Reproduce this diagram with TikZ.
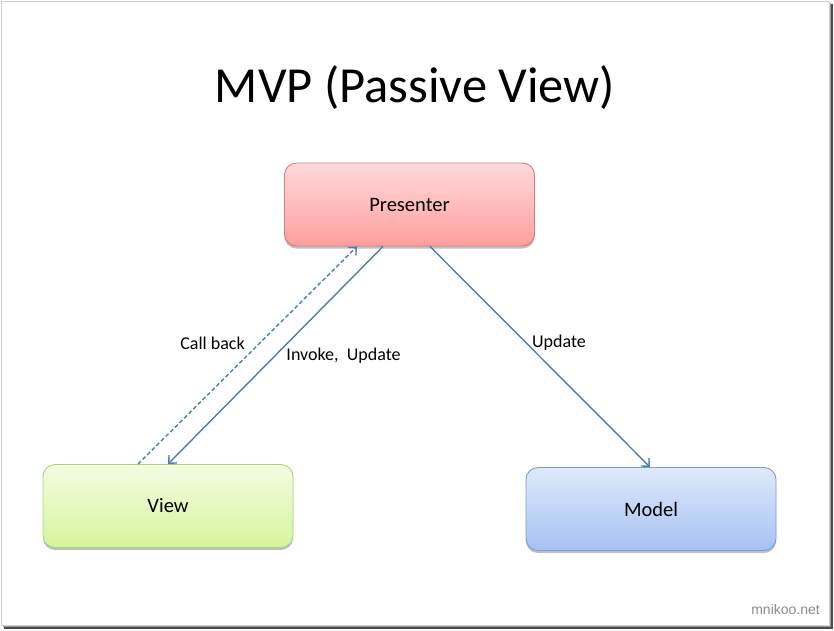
\documentclass[tikz,border=0pt]{standalone}
\usepackage{fontspec}
\setmainfont{Carlito}
\newfontfamily\wmfont{Liberation Sans}
\usetikzlibrary{arrows.meta,shadows}
\definecolor{arrowblue}{HTML}{4A7EBB}
\definecolor{pTop}{HTML}{FFDADA}
\definecolor{pBot}{HTML}{FF9E9E}
\definecolor{pLine}{HTML}{D47C7A}
\definecolor{vTop}{HTML}{F3FCE3}
\definecolor{vBot}{HTML}{D6F59C}
\definecolor{vLine}{HTML}{B0D27A}
\definecolor{mTop}{HTML}{DFE9FB}
\definecolor{mBot}{HTML}{A6C2F3}
\definecolor{mLine}{HTML}{7C9DD4}
\tikzset{
  box/.style={rounded corners=12pt, minimum width=250pt, minimum height=83pt,
    line width=0.9pt, font=\fontsize{20.5}{24}\selectfont, inner sep=0pt,
    drop shadow={shadow xshift=0pt, shadow yshift=-2.5pt, opacity=0.25, fill=black}},
  conn/.style={draw=arrowblue, line width=1.4pt, -{Straight Barb[length=6pt,width=11pt]}},
  lbl/.style={font=\fontsize{18}{21}\selectfont, inner sep=0pt}
}
\begin{document}
\begin{tikzpicture}[x=1pt,y=-1pt]
\useasboundingbox (0,0) rectangle (834,630);
% slide with shadow
\fill[black!70] (4,4) rectangle (833,629);
\fill[black!40] (3,3) rectangle (831,627);
\filldraw[fill=white, draw=black!18, line width=1pt] (1,1) rectangle (829,625);
% title
\node[font=\fontsize{50.5}{60}\selectfont, anchor=base] (title) at (415,102) {MVP (Passive View)};
% boxes
\node[box, draw=pLine, top color=pTop, bottom color=pBot] (presenter) at (409.5,204.5) {Presenter};
\node[box, draw=vLine, top color=vTop, bottom color=vBot] (view) at (168,506) {View};
\node[box, draw=mLine, top color=mTop, bottom color=mBot] (model) at (651,509) {Model};
% connectors
\draw[conn, dashed, dash pattern=on 4pt off 2.5pt] ([xshift=-30pt]view.north) -- ([xshift=-52.5pt]presenter.south);
\draw[conn] ([xshift=-26.5pt]presenter.south) -- (view.north);
\draw[conn] ([xshift=20.5pt]presenter.south) -- ([xshift=-1pt]model.north);
% labels
\node[lbl] (lcb) at (212.5,343) {Call back};
\node[lbl] (liu) at (343.5,356) {Invoke,\ \ Update};
\node[lbl] (lup) at (559,343) {Update};
% watermark
\node[font=\wmfont\fontsize{14}{16}\selectfont, text=black!45, anchor=east, inner sep=0pt] (wm) at (820,609) {mnikoo.net};
\end{tikzpicture}
\end{document}
